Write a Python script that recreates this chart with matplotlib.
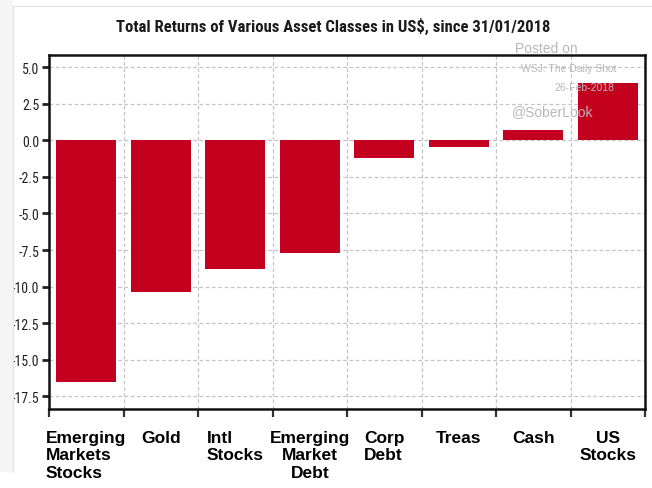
import matplotlib
matplotlib.use("Agg")
import matplotlib.pyplot as plt
import numpy as np
from matplotlib import font_manager
from matplotlib.patches import Rectangle
from matplotlib.lines import Line2D
from matplotlib.ticker import FixedLocator, FormatStrFormatter

plt.rcParams["axes.unicode_minus"] = False

# Asset classes and total returns (%) since 31/01/2018
categories = ["Emerging\nMarkets\nStocks", "Gold", "Intl\nStocks", "Emerging\nMarket\nDebt",
              "Corp\nDebt", "Treas", "Cash", "US\nStocks"]
returns = [-16.55, -10.4, -8.8, -7.7, -1.2, -0.42, 0.72, 3.95]
label_align = ["left", "center", "left", "center", "left", "center", "center", "center"]
y_ticks = [-17.5, -15.0, -12.5, -10.0, -7.5, -5.0, -2.5, 0.0, 2.5, 5.0]

# pick a narrow face for the title and value axis if one is installed
names = {f.name for f in font_manager.fontManager.ttflist}
narrow = None
for cand in ["Liberation Sans Narrow", "Roboto Condensed", "DejaVu Sans Condensed",
             "Open Sans Condensed", "Noto Sans Condensed"]:
    if cand in names:
        narrow = cand
        break
if narrow is None:
    for n in sorted(names):
        if "Condensed" in n or "Narrow" in n:
            narrow = n
            break
if narrow is None:
    narrow_family, title_size, ytick_size = ["Liberation Sans", "DejaVu Sans"], 10.5, 9
else:
    narrow_family, title_size, ytick_size = [narrow, "DejaVu Sans"], 12, 10

W, H = 652, 489
fig = plt.figure(figsize=(W / 100, H / 100), dpi=100, facecolor="white")

# faint outer panel
fig.patches.append(Rectangle((0, 1 - 473 / H), 13 / W, 473 / H, transform=fig.transFigure,
                             facecolor="#f5f5f5", edgecolor="none", zorder=0))
fig.lines.append(Line2D([13 / W, 13 / W], [1 - 473 / H, 1 - 7 / H], transform=fig.transFigure,
                        color="#e2e2e2", lw=0.8))
fig.lines.append(Line2D([13 / W, 1], [1 - 7 / H, 1 - 7 / H], transform=fig.transFigure,
                        color="#e2e2e2", lw=0.8))

ax = fig.add_axes([49 / W, 1 - 410 / H, (645 - 49) / W, (410 - 55.5) / H])

x = np.arange(len(categories))
ax.bar(x, returns, width=0.8, color="#c4001f", zorder=3)

ax.set_xlim(-0.5, len(categories) - 0.5)
ax.set_ylim(-18.39, 5.89)

# y axis
ax.yaxis.set_major_locator(FixedLocator(y_ticks))
ax.yaxis.set_major_formatter(FormatStrFormatter("%.1f"))
ax.tick_params(axis="y", which="major", length=5, width=2, color="#222222", pad=2,
               labelsize=ytick_size, labelcolor="#222222")
for lab in ax.get_yticklabels():
    lab.set_family(narrow_family)

# x axis: labels under categories, tick marks at category boundaries
ax.set_xticks(x)
ax.set_xticklabels(categories)
ax.set_xticks(np.arange(-0.5, len(categories)), minor=True)
ax.tick_params(axis="x", which="major", length=0, pad=15, labelsize=12.5)
ax.tick_params(axis="x", which="minor", length=6, width=1.6, color="#333333")
for lab, al in zip(ax.get_xticklabels(), label_align):
    lab.set_family(["Liberation Sans", "DejaVu Sans"])
    lab.set_fontweight("bold")
    lab.set_multialignment(al)
    lab.set_linespacing(1.22)

# dashed grid
ax.grid(True, axis="y", which="major", color="#c4c4c4", lw=0.9, ls=(0, (3, 2)), zorder=1)
ax.grid(True, axis="x", which="minor", color="#c4c4c4", lw=0.9, ls=(0, (3, 2)), zorder=1)

for s in ax.spines.values():
    s.set_linewidth(1.8)
    s.set_color("#111111")

# title
fig.text(333 / W, 1 - 26 / H, "Total Returns of Various Asset Classes in US$, since 31/01/2018",
         ha="center", va="center", fontsize=title_size, fontweight="bold", color="#1a1a1a",
         family=narrow_family)

# source stamp
stamp = "#b8b8b8"
stamp_font = ["Liberation Sans", "DejaVu Sans"]
fig.text(546 / W, 1 - 49 / H, "Posted on", ha="center", va="center", fontsize=10,
         color=stamp, family=stamp_font)
fig.text(569 / W, 1 - 69 / H, "WSJ: The Daily Shot", ha="center", va="center", fontsize=7.5,
         color=stamp, family=stamp_font)
fig.text(584 / W, 1 - 88 / H, "26-Feb-2018", ha="center", va="center", fontsize=7.5,
         color=stamp, family=stamp_font)
fig.text(553 / W, 1 - 112 / H, "@SoberLook", ha="center", va="center", fontsize=10,
         color=stamp, family=stamp_font)

fig.savefig("out.png", dpi=100, facecolor="white")
